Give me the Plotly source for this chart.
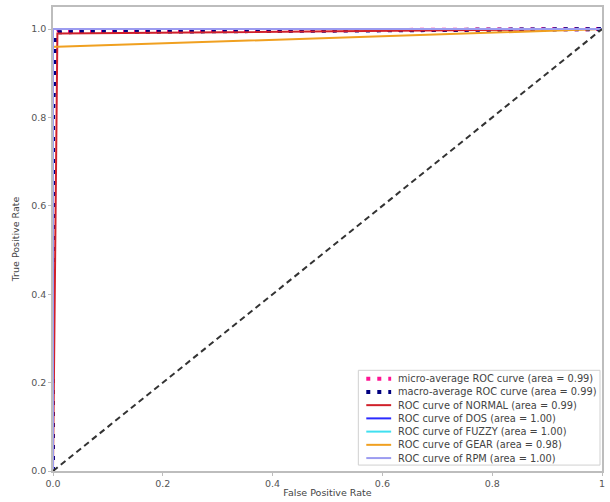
import plotly.graph_objects as go

# ROC curve points (false positive rate, true positive rate)
micro_fpr = [0.0, 0.0, 0.004, 0.01, 1.0]
micro_tpr = [0.0, 0.85, 0.99, 0.995, 1.0]
macro_fpr = [0.0, 0.0, 0.005, 0.01, 1.0]
macro_tpr = [0.0, 0.80, 0.99, 0.993, 1.0]

class_names = ["NORMAL", "DOS", "FUZZY", "GEAR", "RPM"]
class_auc = [0.99, 1.00, 1.00, 0.98, 1.00]
class_fpr = [
    [0.0, 0.008, 1.0],
    [0.0, 0.0, 1.0],
    [0.0, 0.0, 1.0],
    [0.0, 0.0, 0.008, 1.0],
    [0.0, 0.0, 1.0],
]
class_tpr = [
    [0.0, 0.99, 1.0],
    [0.0, 1.0, 1.0],
    [0.0, 1.0, 1.0],
    [0.0, 0.96, 0.96, 1.0],
    [0.0, 1.0, 1.0],
]
class_colors = ["#d0202a", "#2b2bff", "#40e0f0", "#f0a020", "#9c9cf0"]

micro_auc = 0.99
macro_auc = 0.99

x_ticks = [0.0, 0.2, 0.4, 0.6, 0.8, 1.0]
x_tick_text = ["0.0", "0.2", "0.4", "0.6", "0.8", "1"]
y_ticks = [0.0, 0.2, 0.4, 0.6, 0.8, 1.0]
y_tick_text = ["0.0", "0.2", "0.4", "0.6", "0.8", "1.0"]

W, H = 610, 502
ML, MR, MT, MB = 53, 5, 7, 25
PW, PH = W - ML - MR, H - MT - MB

DOT = "4px,7px"


def px(x):
    return (x - ML) / PW


def py(y):
    return (H - MB - y) / PH


fig = go.Figure()

legend_items = []

fig.add_trace(go.Scatter(
    x=micro_fpr, y=micro_tpr, mode="lines", showlegend=False,
    line=dict(color="deeppink", width=4, dash=DOT),
))
legend_items.append((f"micro-average ROC curve (area = {micro_auc:.2f})", "deeppink", 4, DOT))

fig.add_trace(go.Scatter(
    x=macro_fpr, y=macro_tpr, mode="lines", showlegend=False,
    line=dict(color="navy", width=4, dash=DOT),
))
legend_items.append((f"macro-average ROC curve (area = {macro_auc:.2f})", "navy", 4, DOT))

for name, auc, fpr, tpr, col in zip(class_names, class_auc, class_fpr, class_tpr, class_colors):
    fig.add_trace(go.Scatter(
        x=fpr, y=tpr, mode="lines", showlegend=False,
        line=dict(color=col, width=2),
    ))
    legend_items.append((f"ROC curve of {name} (area = {auc:.2f})", col, 2, "solid"))

# chance diagonal
fig.add_trace(go.Scatter(
    x=[0, 1], y=[0, 1], mode="lines", showlegend=False,
    line=dict(color="#333333", width=2, dash="6px,4px"),
))

# legend box in the lower-right corner of the axes
shapes = [dict(
    type="rect", xref="paper", yref="paper",
    x0=px(360), x1=px(603), y0=py(471), y1=py(375),
    line=dict(color="#d0d0d0", width=1), fillcolor="rgba(255,255,255,0.85)",
    layer="above",
)]
annotations = []
row0, step = 383.5, 13.4
for i, (label, col, lw, dash) in enumerate(legend_items):
    yy = row0 + i * step
    shapes.append(dict(
        type="line", xref="paper", yref="paper",
        x0=px(368), x1=px(393), y0=py(yy), y1=py(yy),
        line=dict(color=col, width=lw, dash=dash), layer="above",
    ))
    annotations.append(dict(
        xref="paper", yref="paper", x=px(398), y=py(yy),
        xanchor="left", yanchor="middle", showarrow=False, text=label,
        font=dict(family="DejaVu Sans", size=9.8, color="#444444"),
    ))

axis_common = dict(
    showgrid=False, zeroline=False, showline=True, mirror=True,
    linecolor="#bdbdbd", linewidth=1.5,
    ticks="outside", ticklen=3, tickcolor="#bdbdbd",
    tickfont=dict(family="DejaVu Sans", size=9.5, color="#555555"),
)

fig.update_layout(
    width=W, height=H,
    margin=dict(l=ML, r=MR, t=MT, b=MB),
    paper_bgcolor="white", plot_bgcolor="white",
    font=dict(family="DejaVu Sans", size=9, color="#444444"),
    xaxis=dict(range=[0, 1], tickvals=x_ticks, ticktext=x_tick_text,
               title=dict(text="False Positive Rate", standoff=1,
                          font=dict(size=9.5, color="#444444")),
               **axis_common),
    yaxis=dict(range=[0, 1.05], tickvals=y_ticks, ticktext=y_tick_text,
               title=dict(text="True Positive Rate", standoff=10,
                          font=dict(size=9.5, color="#444444")),
               **axis_common),
    shapes=shapes,
    annotations=annotations,
    showlegend=False,
)

fig.write_html("out.html")
